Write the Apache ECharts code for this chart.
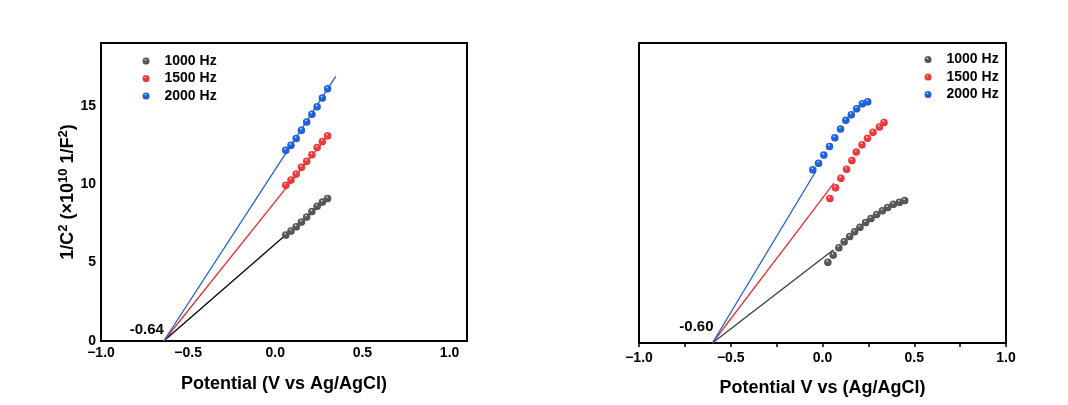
<!DOCTYPE html>
<html>
<head>
<meta charset="utf-8">
<script src="https://cdn.jsdelivr.net/npm/echarts@6/dist/echarts.min.js"></script>
<style>
  html, body { margin: 0; padding: 0; background: #fff; }
  #chart { width: 1068px; height: 405px; }
</style>
</head>
<body>
<div id="chart"></div>
<script>
// Mott–Schottky data: 1/C^2 (x10^10 1/F^2) against potential (V vs Ag/AgCl)
const frequencies = ['1000 Hz', '1500 Hz', '2000 Hz'];

// Left panel
const leftPotential = [0.06, 0.09, 0.12, 0.15, 0.18, 0.21, 0.24, 0.27, 0.30];
const left1000 = [6.76, 7.01, 7.29, 7.59, 7.91, 8.25, 8.59, 8.86, 9.08];
const left1500 = [9.93, 10.27, 10.65, 11.08, 11.46, 11.87, 12.34, 12.72, 13.08];
const left2000 = [12.16, 12.48, 12.91, 13.44, 13.97, 14.46, 14.93, 15.49, 16.08];
const leftIntercept = -0.64;
const leftSlopes = [9.66, 13.9, 17.1];
const leftFitEnd = [0.30, 0.30, 0.347];

// Right panel
const right1000x = [0.029, 0.058, 0.089, 0.118, 0.148, 0.175, 0.204, 0.235, 0.264, 0.295, 0.326, 0.355, 0.386, 0.419, 0.448];
const right1000 = [5.12, 5.58, 6.04, 6.42, 6.74, 7.04, 7.33, 7.63, 7.88, 8.14, 8.37, 8.58, 8.79, 8.92, 9.02];
const right1500x = [0.040, 0.071, 0.100, 0.131, 0.160, 0.184, 0.215, 0.245, 0.275, 0.310, 0.335];
const right1500 = [9.15, 9.83, 10.44, 11.01, 11.56, 12.09, 12.56, 12.96, 13.34, 13.68, 13.97];
const right2000x = [-0.053, -0.022, 0.007, 0.038, 0.067, 0.098, 0.127, 0.157, 0.186, 0.217, 0.246];
const right2000 = [10.97, 11.39, 11.90, 12.45, 13.00, 13.55, 14.10, 14.46, 14.84, 15.16, 15.28];
const rightIntercept = -0.60;
const rightSlopes = [8.94, 15.3, 19.3];
const rightFitEnd = [0.06, 0.062, -0.038];

const xTicks = [-1.0, -0.5, 0.0, 0.5, 1.0];
const yTicks = [0, 5, 10, 15];

const FONT = '"Liberation Sans", Arial, Helvetica, sans-serif';
const markerBase = ['#585858', '#ee3b3b', '#1f63dc'];
const markerDark = ['#2a2a2a', '#b81818', '#0c3c9c'];
const leftLine = ['#000000', '#e8302f', '#1d5fd0'];
const rightLine = ['#3c3c3c', '#e8302f', '#1d5fd0'];

function sphere(i) {
  return {
    type: 'radial', x: 0.42, y: 0.32, r: 0.7,
    colorStops: [
      { offset: 0, color: '#ffffff' },
      { offset: 0.25, color: markerBase[i] },
      { offset: 0.8, color: markerBase[i] },
      { offset: 1, color: markerDark[i] }
    ]
  };
}

function pairs(xs, ys) { return xs.map((x, k) => [x, ys[k]]); }
function fit(intercept, slope, end) {
  return [[intercept, 0], [end, +(slope * (end - intercept)).toFixed(3)]];
}
function minusFmt(v) {
  const s = Math.abs(v).toFixed(1);
  return v < 0 ? '\u2212' + s : s;
}

const scatterSeries = (name, i, data, ax) => ({
  name, type: 'scatter', xAxisIndex: ax, yAxisIndex: ax, data,
  symbol: 'circle', symbolSize: 7.5, z: 5,
  itemStyle: { color: sphere(i), opacity: 1 }
});
const lineSeries = (i, data, ax, colors) => ({
  name: 'fit' + ax + '_' + i, type: 'line', xAxisIndex: ax, yAxisIndex: ax, data,
  symbol: 'none', z: 3, lineStyle: { color: colors[i], width: 1.3 }
});
const interceptSeries = (value, ax, offset) => ({
  name: 'intercept' + ax, type: 'scatter', xAxisIndex: ax, yAxisIndex: ax,
  data: [[value, 0]], symbolSize: 0, z: 6,
  itemStyle: { color: '#000', opacity: 1 },
  label: {
    show: true, position: 'inside', offset,
    formatter: p => p.value[0].toFixed(2),
    fontFamily: FONT, fontWeight: 'bold', fontSize: 15, color: '#000', opacity: 1
  }
});

const leftData = [left1000, left1500, left2000];
const rightData = [pairs(right1000x, right1000), pairs(right1500x, right1500), pairs(right2000x, right2000)];

const series = [];
frequencies.forEach((f, i) => {
  series.push(lineSeries(i, fit(leftIntercept, leftSlopes[i], leftFitEnd[i]), 0, leftLine));
  series.push(scatterSeries(f, i, pairs(leftPotential, leftData[i]), 0));
});
frequencies.forEach((f, i) => {
  series.push(lineSeries(i, fit(rightIntercept, rightSlopes[i], rightFitEnd[i]), 1, rightLine));
  series.push(scatterSeries(f, i, rightData[i], 1));
});
series.push(interceptSeries(leftIntercept, 0, [-17, -11]));
series.push(interceptSeries(rightIntercept, 1, [-16, -16]));

const tickLabel = { fontFamily: FONT, fontWeight: 'bold', fontSize: 14, color: '#000' };
const axisNameStyle = { fontFamily: FONT, fontWeight: 'bold', fontSize: 18, color: '#000' };

const legendCommon = {
  orient: 'vertical', itemWidth: 7, itemHeight: 7, itemGap: 3.5, icon: 'circle',
  selectedMode: false,
  textStyle: { fontFamily: FONT, fontWeight: 'bold', fontSize: 14, color: '#000', padding: [0, 0, 0, 10] },
  data: frequencies
};

const option = {
  backgroundColor: '#ffffff',
  animation: false,
  grid: [
    { left: 101, top: 43, width: 366, height: 298, show: true, borderColor: '#000', borderWidth: 2, backgroundColor: 'transparent' },
    { left: 639, top: 43, width: 367, height: 300, show: true, borderColor: '#000', borderWidth: 2, backgroundColor: 'transparent' }
  ],
  legend: [
    Object.assign({ left: 137.5, top: 49 }, legendCommon),
    Object.assign({ left: 919.5, top: 47.5 }, legendCommon)
  ],
  xAxis: [
    {
      gridIndex: 0, type: 'value', min: -1, max: 1.1, interval: 0.5,
      axisLine: { show: false }, axisTick: { show: false }, splitLine: { show: false },
      axisLabel: Object.assign({ margin: 5, showMaxLabel: false, formatter: minusFmt }, tickLabel),
      name: 'Potential (V vs Ag/AgCl)', nameLocation: 'middle', nameGap: 34, nameTextStyle: axisNameStyle
    },
    {
      gridIndex: 1, type: 'value', min: -1, max: 1, interval: 0.5,
      axisLine: { show: false },
      axisTick: { show: true, length: 4, inside: false, lineStyle: { color: '#000', width: 1.5 } },
      minorTick: { show: true, splitNumber: 2, length: 4, lineStyle: { color: '#000', width: 1.5 } },
      splitLine: { show: false },
      axisLabel: Object.assign({ margin: 8, formatter: minusFmt }, tickLabel),
      name: 'Potential V vs (Ag/AgCl)', nameLocation: 'middle', nameGap: 36, nameTextStyle: axisNameStyle
    }
  ],
  yAxis: [
    {
      gridIndex: 0, type: 'value', min: 0, max: 19, interval: 5,
      axisLine: { show: false }, axisTick: { show: false }, splitLine: { show: false },
      axisLabel: Object.assign({ margin: 5, showMaxLabel: false }, tickLabel),
      name: '1/C{sup|2} (\u00d710{sup|10} 1/F{sup|2})', nameLocation: 'middle', nameGap: 22,
      nameMoveOverlap: false,
      nameTextStyle: Object.assign({}, axisNameStyle, {
        fontSize: 18, lineHeight: 22,
        rich: { sup: { fontFamily: FONT, fontWeight: 'bold', fontSize: 13, color: '#000', verticalAlign: 'top', lineHeight: 22 } }
      })
    },
    {
      gridIndex: 1, type: 'value', min: 0, max: 19, interval: 5,
      axisLine: { show: false }, axisTick: { show: false }, splitLine: { show: false },
      axisLabel: { show: false }
    }
  ],
  series
};

const chart = echarts.init(document.getElementById('chart'), null, { renderer: 'canvas' });
chart.setOption(option);
</script>
</body>
</html>
